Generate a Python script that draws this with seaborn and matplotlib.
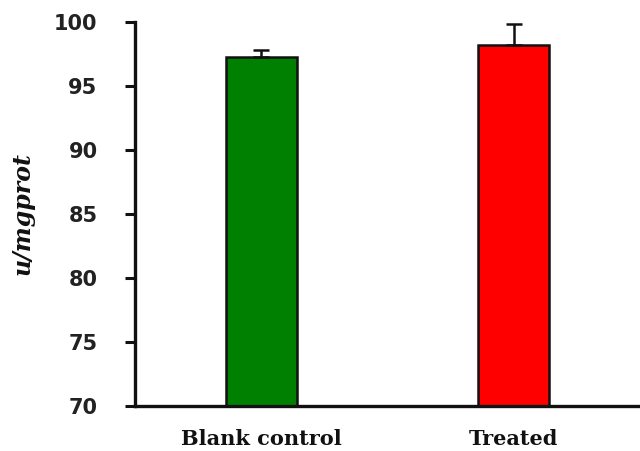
import numpy as np
import pandas as pd
import matplotlib
matplotlib.use('Agg')
import matplotlib.pyplot as plt
import seaborn as sns

# 数据
groups = ['Blank control', 'Treated']
values = [97.25, 98.2]
errors = [0.55, 1.65]
bar_colors = ['#008000', '#ff0000']
yticks = [70, 75, 80, 85, 90, 95, 100]

df = pd.DataFrame({'group': groups, 'value': values})

sns.set_style('white')

fig = plt.figure(figsize=(6.4, 4.51), dpi=100)
ax = fig.add_axes([135/640, 1 - 406/451, 1 - 135/640, (406 - 22)/451])

sns.barplot(data=df, x='group', y='value', hue='group', palette=bar_colors,
            saturation=1, width=0.28, linewidth=1.8, edgecolor='#111111',
            errorbar=None, legend=False, ax=ax)

# 只画向上的误差线
ax.errorbar(x=np.arange(len(groups)), y=values,
            yerr=[np.zeros(len(errors)), errors], fmt='none',
            ecolor='#111111', elinewidth=1.8, capsize=6, capthick=1.8, zorder=3)

ax.set_ylim(70, 100)
ax.set_xlim(-0.5, 1.5)
ax.set_yticks(yticks)
ax.spines['right'].set_visible(False)
ax.spines['top'].set_visible(False)
ax.spines['left'].set_linewidth(2.4)
ax.spines['bottom'].set_linewidth(2.4)
ax.spines['left'].set_color('#111111')
ax.spines['bottom'].set_color('#111111')

ax.tick_params(axis='y', which='major', left=True, direction='out', length=7,
               width=2.2, color='#111111', pad=20, labelsize=15)
ax.tick_params(axis='x', bottom=False, pad=13)
for lab in ax.get_yticklabels():
    lab.set_fontweight('bold')
    lab.set_color('#222222')
ax.set_xticks(range(len(groups)))
ax.set_xticklabels(groups, family='DejaVu Serif', fontweight='bold',
                   fontsize=15, color='#111111')

ax.set_xlabel(None)
ax.set_ylabel('u/mgprot', family='DejaVu Serif', fontweight='bold',
              style='italic', fontsize=17, labelpad=14, color='#111111')

fig.savefig('out.png', dpi=100)
